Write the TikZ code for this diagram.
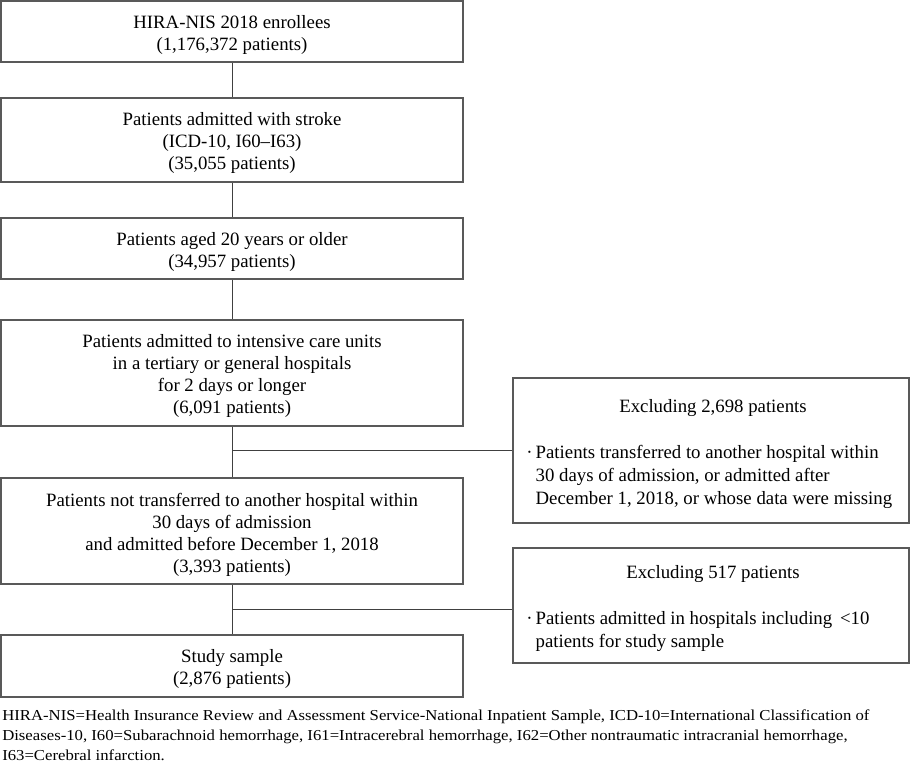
\documentclass[tikz,border=0pt]{standalone}
\usepackage{fontspec}
\setmainfont{Liberation Serif}
\newcommand{\wnote}[1]{\scalebox{1.1}[1]{#1}}
\tikzset{
  mainbox/.style={draw=black!65, line width=0.9pt, rectangle, minimum width=346.5pt, inner sep=0pt},
  sidebox/.style={draw=black!65, line width=0.9pt, rectangle, minimum width=297pt, inner sep=0pt},
  maintext/.style={inner sep=0pt, align=center, yshift=-2.6pt, font=\fontsize{14.1}{16.5}\selectfont},
  boxtext/.style={inner sep=0pt, font=\fontsize{14.1}{17.2}\selectfont},
  link/.style={draw=black!75, line width=0.7pt},
  note/.style={inner sep=0pt, anchor=west, font=\fontsize{11.4}{13}\selectfont}
}
\begin{document}
\begin{tikzpicture}[x=0.75pt, y=-0.75pt]
\useasboundingbox (0,0) rectangle (910,763);
\node[mainbox, minimum height=45.75pt] (b1) at (232,31.5) {};
\node[mainbox, minimum height=63pt] (b2) at (232,140) {};
\node[mainbox, minimum height=45.75pt] (b3) at (232,248.5) {};
\node[mainbox, minimum height=79.5pt] (b4) at (232,373) {};
\node[mainbox, minimum height=79.5pt] (b5) at (232,531) {};
\node[mainbox, minimum height=46.5pt] (b6) at (232,666) {};

\node[maintext] (t1) at (b1.center) {HIRA-NIS 2018 enrollees\\(1,176,372 patients)};
\node[maintext] (t2) at (b2.center) {Patients admitted with stroke\\(ICD-10, I60--I63)\\(35,055 patients)};
\node[maintext] (t3) at (b3.center) {Patients aged 20 years or older\\(34,957 patients)};
\node[maintext] (t4) at (b4.center) {Patients admitted to intensive care units\\in a tertiary or general hospitals\\for 2 days or longer\\(6,091 patients)};
\node[maintext] (t5) at (b5.center) {Patients not transferred to another hospital within\\30 days of admission\\and admitted before December 1, 2018\\(3,393 patients)};
\node[maintext] (t6) at (b6.center) {Study sample\\(2,876 patients)};

\node[sidebox, minimum height=108.75pt] (r1) at (711,450.5) {};
\node[sidebox, minimum height=86.25pt] (r2) at (711,605.5) {};

\node[boxtext] (r1h) at (713,408) {Excluding 2,698 patients};
\node[boxtext, anchor=north west, align=left] (r1t) at (526,445) {·\,Patients transferred to another hospital within\\\hphantom{·\,}30 days of admission, or admitted after\\\hphantom{·\,}December 1, 2018, or whose data were missing};
\node[boxtext] (r2h) at (713,574) {Excluding 517 patients};
\node[boxtext, anchor=north west, align=left] (r2t) at (526,611) {·\,Patients admitted in hospitals including \,<10\\\hphantom{·\,}patients for study sample};

\draw[link] (b1.south) -- (b2.north);
\draw[link] (b2.south) -- (b3.north);
\draw[link] (b3.south) -- (b4.north);
\draw[link] (b4.south) -- (b5.north);
\draw[link] (b5.south) -- (b6.north);
\coordinate (j1) at (b4.south |- r1.west);
\coordinate (j2) at (b5.south |- 0,609);
\draw[link] (j1) -- (r1.west);
\draw[link] (j2) -- (r2.west |- j2);

\node[note] (n1) at (2,717) {\wnote{HIRA-NIS=Health Insurance Review and Assessment Service-National Inpatient Sample, ICD-10=International Classification of}};
\node[note] (n2) at (2,737) {\wnote{Diseases-10, I60=Subarachnoid hemorrhage, I61=Intracerebral hemorrhage, I62=Other nontraumatic intracranial hemorrhage,}};
\node[note] (n3) at (2,755) {\wnote{I63=Cerebral infarction.}};
\end{tikzpicture}
\end{document}
